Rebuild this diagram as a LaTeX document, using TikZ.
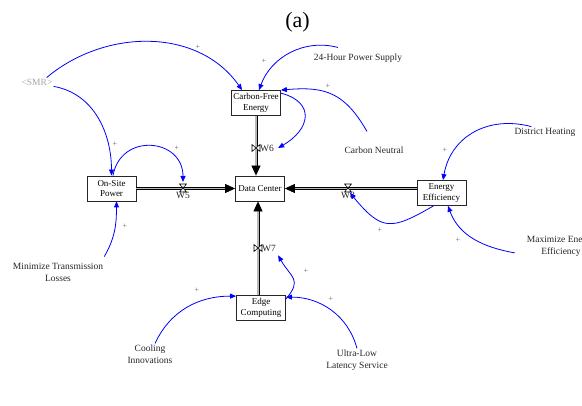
\documentclass[tikz,border=0pt]{standalone}
\usepackage{fontspec}
\setmainfont{Liberation Serif}
\usetikzlibrary{arrows.meta,positioning}

\tikzset{
  hvalve/.pic={\draw[fill=white, line width=0.6pt] (-3.5,4) -- (3.5,4) -- (-3.5,-4) -- (3.5,-4) -- cycle;},
  vvalve/.pic={\draw[fill=white, line width=0.6pt] (-4,3.5) -- (-4,-3.5) -- (4,3.5) -- (4,-3.5) -- cycle;},
}

\begin{document}
\begin{tikzpicture}[
  x=1pt, y=1pt,
  font=\fontsize{9.5}{12}\selectfont,
  >=Stealth,
  stock/.style={draw=black!85, line width=0.8pt, fill=white, minimum width=49pt, minimum height=25pt, inner sep=1pt, align=center, font=\fontsize{9}{10.5}\selectfont},
  aux/.style={align=center, inner sep=1pt, text=black!85},
  pipe/.style={draw=black, double=gray!55, line width=0.7pt, double distance=1.6pt, -{Triangle[length=10pt,width=9pt,fill=black]}},
  link/.style={blue, line width=0.8pt, -{Triangle[length=6pt,width=5pt]}},
  pol/.style={font=\fontsize{8}{9}\selectfont, text=black!60, inner sep=0pt},
  vlabel/.style={inner sep=1pt, text=black!85},
]
\useasboundingbox (0,0) rectangle (582,405);

% Title
\node[font=\fontsize{22}{24}\selectfont] (title) at (297.5,383) {(a)};

% ========== Stocks ==========
\node[stock] (dc) at (260,216.5) {Data Center};
\node[stock] (cfe) at (256,302) {Carbon-Free\\Energy};
\node[stock] (osp) at (111.5,216.5) {On-Site\\Power};
\node[stock] (ee) at (441.5,212) {Energy\\Efficiency};
\node[stock] (ec) at (261,97) {Edge\\Computing};

% ========== Auxiliaries ==========
\node[aux, text=gray!70] (smr) at (37,323) {<SMR>};
\node[aux] (hour24) at (358,347) {24-Hour Power Supply};
\node[aux] (cneutral) at (374,255) {Carbon Neutral};
\node[aux] (dheat) at (545,273) {District Heating};
\node[aux] (maxee) at (561,158.5) {Maximize Energy\\Efficiency};
\node[aux] (mintl) at (58,133) {Minimize Transmission\\Losses};
\node[aux] (cool) at (150,51) {Cooling\\Innovations};
\node[aux] (ultra) at (357,45) {Ultra-Low\\Latency Service};

% ========== Flows ==========
\draw[pipe] (osp) -- (dc);
\draw[pipe] (ee.west |- dc.center) -- (dc.east);
\draw[pipe] (cfe) -- (cfe |- dc.north);
\draw[pipe] ([xshift=-3pt]ec.north) -- ([xshift=-3pt]ec.north |- dc.south);

% valves
\coordinate (w5) at (183,217);
\coordinate (w6) at (256,257);
\coordinate (w7) at (258,157);
\coordinate (w8) at (348,217);
\pic at (w5) {hvalve};
\pic at (w8) {hvalve};
\pic at (w6) {vvalve};
\pic at (w7) {vvalve};
\node[vlabel, below=3pt of w5] (w5lab) {W5};
\node[vlabel, below=3pt of w8] (w8lab) {W8};
\node[vlabel, right=3pt of w6] (w6lab) {W6};
\node[vlabel, right=3pt of w7] (w7lab) {W7};

% ========== Links ==========
\draw[link] ([xshift=-7pt]smr.north east) to[out=40,in=125] ([xshift=11pt]cfe.north west);
\draw[link] (smr.south east) to[out=-10,in=90] (osp.north);
\draw[link] ([shift={(-20pt,5pt)}]hour24.north) to[out=165,in=70] ([xshift=3pt]cfe.north);
\draw[link] ([shift={(-7pt,14pt)}]cneutral.north) to[out=120,in=5,looseness=1.2] (cfe.north east);
\draw[link] ([yshift=-3pt]cfe.north east) to[out=-15,in=30,looseness=1.7] ([xshift=3pt]w6lab.east);
\draw[link] ([xshift=1.5pt]osp.north) to[out=80,in=90,looseness=1.6] ([yshift=6pt]w5);
\draw[link] ([yshift=5pt]mintl.north east) to[out=60,in=-90] ([xshift=5pt]osp.south);
\draw[link] ([xshift=18pt]dheat.north west) to[out=165,in=80,looseness=1.1] ([xshift=1.5pt]ee.north);
\draw[link] ([xshift=-8pt]ee.south) to[out=210,in=-50,looseness=1.5] ([shift={(2pt,-5pt)}]w8);
\draw[link] ([shift={(-11pt,5pt)}]maxee.south west) to[out=170,in=-70] ([xshift=6.5pt]ee.south);
\draw[link] ([yshift=-4pt]ec.north east) to[out=50,in=-60,looseness=1.5] ([shift={(1pt,-3pt)}]w7lab.south east);
\draw[link] ([xshift=5pt]cool.north) to[out=65,in=180] ([yshift=-1pt]ec.north west);
\draw[link] (ultra.north) to[out=105,in=0] ([yshift=-2pt]ec.north east);

% polarity
\foreach \pos [count=\i] in {(198,358),(115,261),(264,344),(328,319),(177,257),(125,179),(445,255),(380,175),(458,165),(306,134),(197,115),(331,106)}
  \node[pol] (plus\i) at \pos {+};

\end{tikzpicture}
\end{document}
